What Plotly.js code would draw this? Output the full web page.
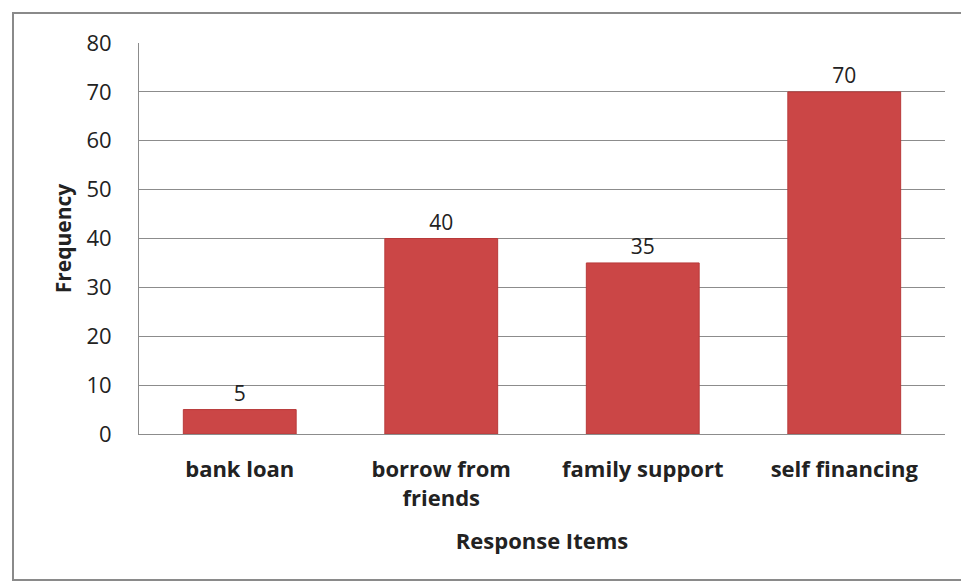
<!DOCTYPE html>
<html>
<head>
<meta charset="utf-8">
<script src="https://cdn.plot.ly/plotly-3.0.1.min.js"></script>
<style>
html,body{margin:0;padding:0;background:#fff;}
#wrap{position:relative;width:961px;height:585px;}
#chart{width:961px;height:585px;}
#frame{position:absolute;left:12px;top:12px;width:960px;height:569px;border:2px solid #8a8a8a;pointer-events:none;box-sizing:border-box;}
</style>
</head>
<body>
<div id="wrap"><div id="chart"></div><div id="frame"></div></div>
<script>
const categories = ["bank loan", "borrow from<br>friends", "family support", "self financing"];
const frequency = [5, 40, 35, 70];
const yTicks = [0, 10, 20, 30, 40, 50, 60, 70, 80];

const font = "'Open Sans', 'Liberation Sans', sans-serif";

Plotly.newPlot('chart', [{
  type: 'bar',
  x: categories,
  y: frequency,
  text: frequency.map(String),
  textposition: 'outside',
  cliponaxis: false,
  textfont: {family: font, size: 21, color: '#222'},
  marker: {color: '#cb4646', line: {color: '#b83a3a', width: 1}},
  width: 0.56,
  hoverinfo: 'none'
}], {
  width: 961, height: 585,
  margin: {l: 139, r: 16, t: 43, b: 151},
  paper_bgcolor: '#fff', plot_bgcolor: '#fff',
  showlegend: false,
  bargap: 0.44,
  font: {family: font, color: '#222'},
  xaxis: {
    type: 'category',
    showline: true, linecolor: '#8c8c8c', linewidth: 1,
    showgrid: false, ticks: '',
    ticklabelstandoff: 16,
    tickfont: {family: font, size: 22, color: '#222', weight: 'bold'},
    title: {text: '<b>Response Items</b>', font: {family: font, size: 22, color: '#222'}, standoff: 22}
  },
  yaxis: {
    range: [0, 80], tickvals: yTicks, ticktext: yTicks.map(String),
    showline: true, linecolor: '#8c8c8c', linewidth: 1,
    showgrid: true, gridcolor: '#8c8c8c', gridwidth: 1,
    zeroline: false, ticks: '',
    ticklabelstandoff: 22,
    tickfont: {family: font, size: 22, color: '#222'},
    title: {text: '<b>Frequency</b>', font: {family: font, size: 21, color: '#222'}, standoff: 9}
  }
}, {displayModeBar: false, staticPlot: true});
</script>
</body>
</html>
